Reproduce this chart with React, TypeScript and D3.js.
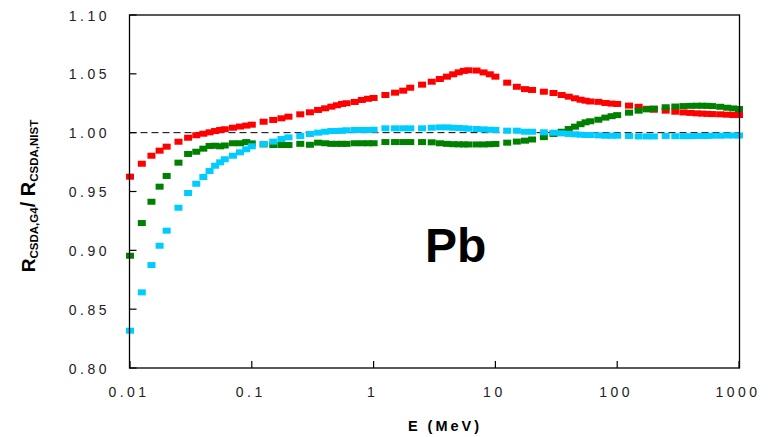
import React from "react";
import * as d3 from "d3";

const energies = [
  0.01, 0.0125, 0.015, 0.0175, 0.02, 0.025, 0.03, 0.035, 0.04, 0.045, 0.05, 0.055, 0.06, 0.07, 0.08, 0.09,
  0.1, 0.125, 0.15, 0.175, 0.2, 0.25, 0.3, 0.35, 0.4, 0.45, 0.5, 0.55, 0.6, 0.7, 0.8, 0.9,
  1, 1.25, 1.5, 1.75, 2, 2.5, 3, 3.5, 4, 4.5, 5, 5.5, 6, 7, 8, 9,
  10, 12.5, 15, 17.5, 20, 25, 30, 35, 40, 45, 50, 55, 60, 70, 80, 90,
  100, 125, 150, 175, 200, 250, 300, 350, 400, 450, 500, 550, 600, 700, 800, 900,
  1000,
];

const redValues = [
  0.9626, 0.9736, 0.9804, 0.9847, 0.9881, 0.9923, 0.9957, 0.9978, 0.9991, 1.0003, 1.0014, 1.0023, 1.0029, 1.0042, 1.0052, 1.006,
  1.0068, 1.0093, 1.0108, 1.0122, 1.0136, 1.0156, 1.0173, 1.0193, 1.0207, 1.0221, 1.0233, 1.0244, 1.025, 1.0261, 1.0278, 1.0288,
  1.0295, 1.032, 1.034, 1.0357, 1.0382, 1.0408, 1.0433, 1.0456, 1.0476, 1.0496, 1.0513, 1.0525, 1.053, 1.0528, 1.0512, 1.0496,
  1.0476, 1.0425, 1.039, 1.037, 1.0363, 1.0348, 1.0337, 1.032, 1.0306, 1.0292, 1.028, 1.0272, 1.0265, 1.0262, 1.0252, 1.0247,
  1.0244, 1.023, 1.022, 1.0203, 1.0195, 1.0187, 1.0178, 1.0172, 1.0168, 1.0164, 1.0162, 1.016, 1.0158, 1.0156, 1.0153, 1.015,
  1.015,
];

const greenValues = [
  0.8954, 0.9232, 0.9413, 0.9541, 0.9632, 0.9745, 0.9819, 0.9838, 0.9864, 0.9887, 0.9889, 0.9884, 0.9891, 0.991, 0.991, 0.992,
  0.9909, 0.99, 0.9895, 0.9895, 0.9895, 0.9905, 0.9897, 0.9915, 0.991, 0.9905, 0.9905, 0.9905, 0.9905, 0.991, 0.991, 0.991,
  0.991, 0.992, 0.992, 0.992, 0.992, 0.992, 0.9918, 0.991, 0.9905, 0.9902, 0.9901, 0.99, 0.99, 0.99, 0.99, 0.9902,
  0.9904, 0.9915, 0.9924, 0.9932, 0.9942, 0.9962, 0.9989, 1.0008, 1.0031, 1.0051, 1.0072, 1.0088, 1.0097, 1.011, 1.0128, 1.014,
  1.0149, 1.017, 1.0187, 1.0198, 1.0205, 1.0216, 1.0222, 1.0226, 1.0228, 1.0229, 1.0229, 1.0228, 1.0226, 1.022, 1.0212, 1.0206,
  1.0201,
];

const cyanValues = [
  0.8317, 0.8643, 0.8875, 0.9039, 0.9167, 0.9362, 0.9487, 0.9566, 0.9623, 0.9674, 0.9719, 0.9748, 0.9774, 0.9804, 0.9833, 0.9859,
  0.9884, 0.9904, 0.9924, 0.9946, 0.996, 0.9972, 0.9989, 1.0, 1.0008, 1.0014, 1.0014, 1.0017, 1.002, 1.0023, 1.0023, 1.0023,
  1.0025, 1.0037, 1.0037, 1.0037, 1.0037, 1.0037, 1.0042, 1.0045, 1.0045, 1.0042, 1.004, 1.0037, 1.0034, 1.0031, 1.0028, 1.0025,
  1.0023, 1.0017, 1.0017, 1.0008, 1.0008, 1.0003, 1.0, 0.9994, 0.9989, 0.9986, 0.9983, 0.998, 0.998, 0.9977, 0.9974, 0.9974,
  0.9974, 0.9972, 0.9968, 0.9968, 0.9968, 0.9972, 0.997, 0.997, 0.997, 0.9972, 0.9972, 0.9972, 0.9974, 0.9974, 0.9976, 0.9976,
  0.9976,
];

const xTicks = [0.01, 0.1, 1, 10, 100, 1000];
const xTickLabels = ["0.01", "0.1", "1", "10", "100", "1000"];
const yTicks = [0.8, 0.85, 0.9, 0.95, 1.0, 1.05, 1.1];
const yTickLabels = ["0.80", "0.85", "0.90", "0.95", "1.00", "1.05", "1.10"];

const series = [
  { name: "red", color: "#FF0000", values: redValues },
  { name: "green", color: "#008000", values: greenValues },
  { name: "cyan", color: "#00CCFF", values: cyanValues },
];

const W = 769;
const H = 437;
const left = 129.5;
const right = 739.5;
const top = 15;
const bottom = 368;

export default function App() {
  const x = d3.scaleLog().domain([0.01, 1000]).range([left + 0.5, right - 0.5]);
  const y = d3.scaleLinear().domain([0.8, 1.1]).range([bottom, top]);
  const font = "'Liberation Sans', Arial, sans-serif";
  const mw = 8;
  const mh = 6;

  return (
    <svg
      width={W}
      height={H}
      style={{ position: "absolute", left: 0, top: 0, background: "#fff" }}
      fontFamily={font}
    >
      <rect x={0} y={0} width={W} height={H} fill="#fff" />
      <line
        x1={left}
        x2={right}
        y1={y(1.0)}
        y2={y(1.0)}
        stroke="#000"
        strokeWidth={1}
        strokeDasharray="7,4"
      />
      {series.map((s) => (
        <g key={s.name} fill={s.color}>
          {energies.map((e, i) => (
            <rect key={i} x={x(e) - mw / 2} y={y(s.values[i]) - mh / 2} width={mw} height={mh} />
          ))}
        </g>
      ))}
      <rect
        x={left}
        y={top}
        width={right - left}
        height={bottom - top}
        fill="none"
        stroke="#000"
        strokeWidth={1.3}
      />
      {yTicks.map((t, i) => (
        <g key={"y" + i}>
          <line x1={left} x2={left + 7} y1={y(t)} y2={y(t)} stroke="#000" strokeWidth={1.2} />
          <text
            x={110}
            y={y(t) + 5.5}
            textAnchor="end"
            fontSize={14}
            letterSpacing={3.5}
            fill="#222"
          >
            {yTickLabels[i]}
          </text>
        </g>
      ))}
      {xTicks.map((t, i) => (
        <g key={"x" + i}>
          <line x1={x(t)} x2={x(t)} y1={bottom} y2={bottom - 7} stroke="#000" strokeWidth={1.2} />
          <text
            x={x(t) - 1}
            y={397}
            textAnchor="middle"
            fontSize={14}
            letterSpacing={3.5}
            fill="#222"
          >
            {xTickLabels[i]}
          </text>
        </g>
      ))}
      <text
        x={445}
        y={431}
        textAnchor="middle"
        fontSize={14.5}
        fontWeight="bold"
        letterSpacing={3}
        fill="#000"
      >
        E (MeV)
      </text>
      <text
        transform="translate(35,196) rotate(-90)"
        textAnchor="middle"
        fontWeight="bold"
        fill="#000"
        fontSize={19}
      >
        <tspan>R</tspan>
        <tspan fontSize={11.5} dy={3}>CSDA,G4</tspan>
        <tspan fontSize={20} dy={-3}>/ R</tspan>
        <tspan fontSize={11.5} dy={3}>CSDA,NIST</tspan>
      </text>
      <text x={425} y={262} fontSize={48} fontWeight="bold" fill="#000">
        Pb
      </text>
    </svg>
  );
}
